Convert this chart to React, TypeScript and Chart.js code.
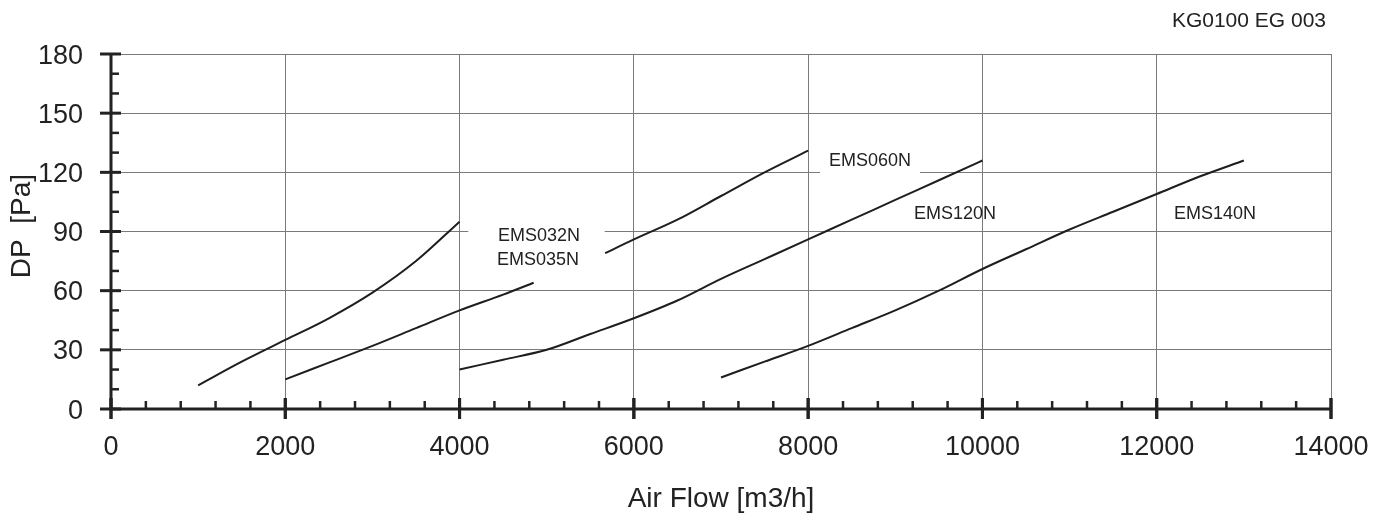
import React, { useEffect, useRef } from "react";
import { Chart, registerables } from "chart.js";

Chart.register(...registerables);

// ---- data ----
const ems032Flow = [1000, 1500, 2000, 2500, 3000, 3500, 4000];
const ems032Dp = [12, 24, 35, 46, 59, 75, 95];

const ems035Flow = [2000, 2500, 3000, 3500, 4000, 4500, 4850];
const ems035Dp = [15, 23.5, 32, 41, 50, 58, 64];

const ems060Flow = [5670, 6000, 6500, 7000, 7500, 8000];
const ems060Dp = [79, 86, 96, 108, 120, 131];

const ems120Flow = [4000, 4500, 5000, 5500, 6000, 6500, 7000, 7500, 8000, 8500, 9000, 9500, 10000];
const ems120Dp = [20, 25, 30, 38, 46, 55, 66, 76, 86, 96, 106, 116, 126];

const ems140Flow = [7000, 7500, 8000, 8500, 9000, 9500, 10000, 10500, 11000, 11500, 12000, 12500, 13000];
const ems140Dp = [16, 24, 32, 41, 50, 60, 71, 81, 91, 100, 109, 118, 126];

const xTickValues = [0, 2000, 4000, 6000, 8000, 10000, 12000, 14000];
const yTickValues = [0, 30, 60, 90, 120, 150, 180];

const curveLabels = ["EMS032N", "EMS035N", "EMS060N", "EMS120N", "EMS140N"];
// label anchors in data units (flow, dp) -- text centre / baseline
const labelFlow = [4912, 4900, 8710, 9686, 12670];
const labelDp = [85.2, 73, 123.2, 96.3, 96.3];

// grid gaps behind labels: [flowFrom, flowTo, dp]
const gapFrom = [4100, 8136];
const gapTo = [5665, 9284];
const gapDp = [90, 120];

const xTitle = "Air Flow [m3/h]";
const yTitle = "DP  [Pa]";
const docCode = "KG0100 EG 003";

const FONT = "'Liberation Sans', Arial, Helvetica, sans-serif";
const INK = "#222222";

const toPts = (xs: number[], ys: number[]) => xs.map((x, i) => ({ x, y: ys[i] }));

const decor = {
  id: "decor",
  beforeDatasetsDraw(chart: any) {
    const { ctx, scales } = chart;
    const x = scales.x;
    const y = scales.y;
    ctx.save();
    ctx.fillStyle = "#ffffff";
    for (let i = 0; i < gapFrom.length; i++) {
      const x0 = x.getPixelForValue(gapFrom[i]);
      const x1 = x.getPixelForValue(gapTo[i]);
      const yy = y.getPixelForValue(gapDp[i]);
      ctx.fillRect(x0, yy - 2, x1 - x0, 4);
    }
    ctx.restore();
  },
  afterDraw(chart: any) {
    const { ctx, scales, chartArea } = chart;
    const x = scales.x;
    const y = scales.y;
    const left = chartArea.left;
    const bottom = chartArea.bottom;
    ctx.save();
    ctx.strokeStyle = INK;
    ctx.lineCap = "butt";

    // axis lines
    ctx.lineWidth = 3;
    ctx.beginPath();
    ctx.moveTo(left, chartArea.top);
    ctx.lineTo(left, bottom);
    ctx.lineTo(chartArea.right, bottom);
    ctx.stroke();

    // y ticks
    for (let v = 0; v <= 180; v += 10) {
      const py = y.getPixelForValue(v);
      ctx.beginPath();
      if (v % 30 === 0) {
        ctx.lineWidth = 3;
        ctx.moveTo(left - 11, py);
        ctx.lineTo(left + 10, py);
      } else {
        ctx.lineWidth = 2.5;
        ctx.moveTo(left, py);
        ctx.lineTo(left + 8, py);
      }
      ctx.stroke();
    }
    // x ticks
    for (let v = 0; v <= 14000; v += 400) {
      const px = x.getPixelForValue(v);
      ctx.beginPath();
      if (v % 2000 === 0) {
        ctx.lineWidth = 3;
        ctx.moveTo(px, bottom - 11);
        ctx.lineTo(px, bottom + 10);
      } else {
        ctx.lineWidth = 2.5;
        ctx.moveTo(px, bottom);
        ctx.lineTo(px, bottom - 8);
      }
      ctx.stroke();
    }
    // major ticks at 2000 multiples (not on 400 grid)
    for (const v of xTickValues) {
      const px = x.getPixelForValue(v);
      ctx.beginPath();
      ctx.lineWidth = 3;
      ctx.moveTo(px, bottom - 11);
      ctx.lineTo(px, bottom + 10);
      ctx.stroke();
    }

    ctx.fillStyle = INK;
    // tick labels
    ctx.font = `27px ${FONT}`;
    ctx.textAlign = "right";
    ctx.textBaseline = "alphabetic";
    for (const v of yTickValues) {
      ctx.fillText(String(v), left - 28, y.getPixelForValue(v) + 9.5);
    }
    ctx.textAlign = "center";
    for (const v of xTickValues) {
      ctx.fillText(String(v), x.getPixelForValue(v), bottom + 46);
    }

    // axis titles
    ctx.font = `28px ${FONT}`;
    ctx.fillText(xTitle, (chartArea.left + chartArea.right) / 2, bottom + 98);
    ctx.save();
    ctx.translate(30, 226);
    ctx.rotate(-Math.PI / 2);
    ctx.textAlign = "center";
    ctx.fillText(yTitle, 0, 0);
    ctx.restore();

    // document code
    ctx.font = `21px ${FONT}`;
    ctx.textAlign = "right";
    ctx.fillText(docCode, 1326, 27);

    // curve labels
    ctx.font = `18px ${FONT}`;
    ctx.textAlign = "center";
    for (let i = 0; i < curveLabels.length; i++) {
      ctx.fillText(curveLabels[i], x.getPixelForValue(labelFlow[i]), y.getPixelForValue(labelDp[i]));
    }
    ctx.restore();
  },
};

export default function App() {
  const ref = useRef<HTMLCanvasElement | null>(null);
  useEffect(() => {
    if (!ref.current) return;
    const mk = (xs: number[], ys: number[]) => ({
      data: toPts(xs, ys),
      borderColor: "#1e1e1e",
      borderWidth: 2,
      pointRadius: 0,
      fill: false,
      tension: 0.3,
      cubicInterpolationMode: "monotone" as const,
    });
    const chart = new Chart(ref.current, {
      type: "line",
      data: {
        datasets: [
          mk(ems032Flow, ems032Dp),
          mk(ems035Flow, ems035Dp),
          mk(ems060Flow, ems060Dp),
          mk(ems120Flow, ems120Dp),
          mk(ems140Flow, ems140Dp),
        ],
      },
      options: {
        animation: false,
        responsive: false,
        events: [],
        layout: { padding: { left: 111, right: 61, top: 54, bottom: 107 } },
        plugins: { legend: { display: false }, tooltip: { enabled: false } },
        scales: {
          x: {
            type: "linear",
            min: 0,
            max: 14000,
            ticks: { display: false, stepSize: 2000 },
            grid: { color: "#7a7a7a", lineWidth: 1, drawTicks: false },
            border: { display: false },
            afterFit: (s: any) => {
              s.height = 0;
            },
          },
          y: {
            type: "linear",
            min: 0,
            max: 180,
            ticks: { display: false, stepSize: 30 },
            grid: { color: "#7a7a7a", lineWidth: 1, drawTicks: false },
            border: { display: false },
            afterFit: (s: any) => {
              s.width = 0;
            },
          },
        },
      },
      plugins: [decor],
    });
    return () => chart.destroy();
  }, []);
  return (
    <div style={{ position: "absolute", left: 0, top: 0, width: 1392, height: 516, background: "#fff" }}>
      <canvas ref={ref} width={1392} height={516} style={{ display: "block" }} />
    </div>
  );
}
